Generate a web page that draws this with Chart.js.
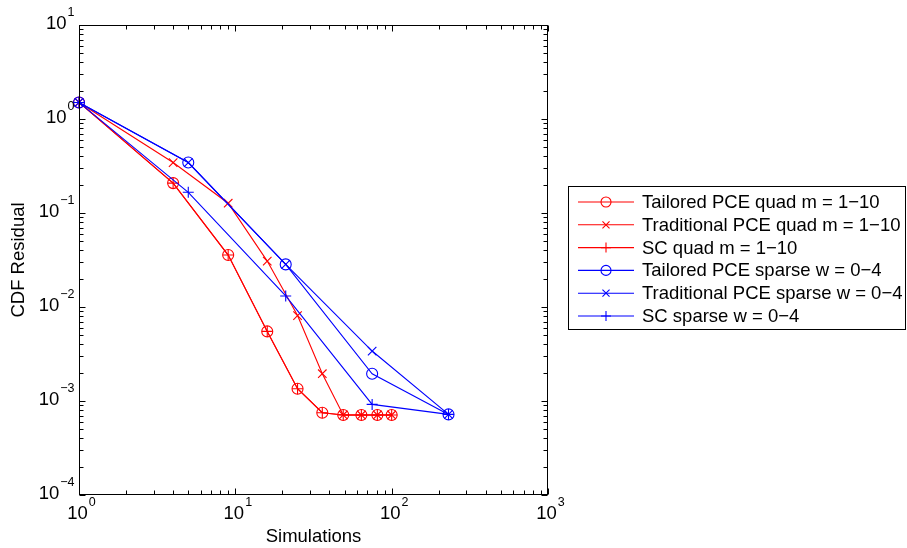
<!DOCTYPE html>
<html>
<head>
<meta charset="utf-8">
<script src="https://cdn.jsdelivr.net/npm/chart.js@4.4.1/dist/chart.umd.min.js"></script>
<style>
  html, body { margin: 0; padding: 0; background: #fff; }
  #chart { display: block; }
</style>
</head>
<body>
<canvas id="chart" width="907" height="548"></canvas>
<script>
// simulations per level
const quadSims = [1, 4, 9, 16, 25, 36, 49, 64, 81, 100];
const sparseSims = [1, 5, 21, 75, 231];

// CDF residual values
const tailoredQuad = [1.5, 0.208, 0.0357, 0.0055, 0.00135, 0.00075, 0.00071, 0.00071, 0.00071, 0.00071];
const traditionalQuad = [1.5, 0.344, 0.127, 0.0308, 0.0081, 0.00195, 0.00071, 0.00071, 0.00071, 0.00071];
const scQuad = [1.5, 0.208, 0.0357, 0.0055, 0.00135, 0.00075, 0.00071, 0.00071, 0.00071, 0.00071];
const tailoredSparse = [1.5, 0.344, 0.0284, 0.00195, 0.00072];
const traditionalSparse = [1.5, 0.344, 0.0284, 0.0034, 0.00072];
const scSparse = [1.5, 0.166, 0.0131, 0.00092, 0.00072];

const seriesLabels = [
  'Tailored PCE quad m = 1\u221210',
  'Traditional PCE quad m = 1\u221210',
  'SC quad m = 1\u221210',
  'Tailored PCE sparse w = 0\u22124',
  'Traditional PCE sparse w = 0\u22124',
  'SC sparse w = 0\u22124'
];

const xRange = [1, 1000];
const yRange = [1e-4, 10];

const FONT = "'Liberation Sans', Arial, Helvetica, sans-serif";
const RED = 'rgb(255, 0, 0)';
const BLUE = 'rgb(0, 0, 255)';

function toPoints(xs, ys) {
  return xs.map((x, i) => ({ x: x, y: ys[i] }));
}

function series(label, xs, ys, color, style, radius, order) {
  return {
    label: label,
    data: toPoints(xs, ys),
    borderColor: color,
    backgroundColor: color,
    borderWidth: 1.1,
    pointStyle: style,
    pointRadius: radius,
    pointHoverRadius: radius,
    pointBorderColor: color,
    pointBackgroundColor: 'rgba(0,0,0,0)',
    pointBorderWidth: 1.1,
    tension: 0,
    clip: false,
    order: order
  };
}

const datasets = [
  series(seriesLabels[0], quadSims, tailoredQuad, RED, 'circle', 5.5, 6),
  series(seriesLabels[1], quadSims, traditionalQuad, RED, 'crossRot', 6, 5),
  series(seriesLabels[2], quadSims, scQuad, RED, 'cross', 5.5, 4),
  series(seriesLabels[3], sparseSims, tailoredSparse, BLUE, 'circle', 5.5, 3),
  series(seriesLabels[4], sparseSims, traditionalSparse, BLUE, 'crossRot', 6, 2),
  series(seriesLabels[5], sparseSims, scSparse, BLUE, 'cross', 5.5, 1)
];

function decadeLabel(ctx, exp, x, y, align) {
  const base = '10';
  const sup = exp < 0 ? '\u2212' + Math.abs(exp) : String(exp);
  ctx.font = '18.5px ' + FONT;
  const wb = ctx.measureText(base).width;
  ctx.font = '12.5px ' + FONT;
  const ws = ctx.measureText(sup).width;
  let start = align === 'right' ? x - wb - ws : x - (wb + ws) / 2;
  ctx.textAlign = 'left';
  ctx.textBaseline = 'middle';
  ctx.font = '18.5px ' + FONT;
  ctx.fillText(base, start, y);
  ctx.font = '12.5px ' + FONT;
  ctx.fillText(sup, start + wb + 1, y - 11);
}

const axesPlugin = {
  id: 'matlabAxes',
  afterDatasetsDraw(chart) {
    const { ctx, chartArea: a, scales } = chart;
    const xs = scales.x, ys = scales.y;
    const L = Math.round(a.left) + 0.5, R = Math.round(a.right) - 0.5;
    const T = Math.round(a.top) + 0.5, B = Math.round(a.bottom) - 0.5;
    ctx.save();
    ctx.strokeStyle = '#000';
    ctx.fillStyle = '#000';
    ctx.lineWidth = 1;
    ctx.strokeRect(L, T, R - L, B - T);

    const x0 = Math.log10(xRange[0]), x1 = Math.log10(xRange[1]);
    const y0 = Math.log10(yRange[0]), y1 = Math.log10(yRange[1]);

    ctx.beginPath();
    for (let e = x0; e <= x1; e++) {
      for (let k = 1; k <= 9; k++) {
        if (e === x1 && k > 1) break;
        const px = Math.round(xs.getPixelForValue(k * Math.pow(10, e))) + 0.5;
        const len = k === 1 ? 6 : 4;
        ctx.moveTo(px, B); ctx.lineTo(px, B - len);
        ctx.moveTo(px, T); ctx.lineTo(px, T + len);
      }
    }
    for (let e = y0; e <= y1; e++) {
      for (let k = 1; k <= 9; k++) {
        if (e === y1 && k > 1) break;
        const py = Math.round(ys.getPixelForValue(k * Math.pow(10, e))) + 0.5;
        const len = k === 1 ? 6 : 4;
        ctx.moveTo(L, py); ctx.lineTo(L + len, py);
        ctx.moveTo(R, py); ctx.lineTo(R - len, py);
      }
    }
    ctx.stroke();

    for (let e = x0; e <= x1; e++) {
      decadeLabel(ctx, e, xs.getPixelForValue(Math.pow(10, e)) + 2, B + 19, 'center');
    }
    for (let e = y0; e <= y1; e++) {
      decadeLabel(ctx, e, L - 6, ys.getPixelForValue(Math.pow(10, e)) - 1, 'right');
    }
    ctx.restore();
  },
  afterDraw(chart) {
    const { ctx } = chart;
    const box = { left: 568.5, top: 186.5, right: 905.5, bottom: 329.5 };
    ctx.save();
    ctx.fillStyle = '#fff';
    ctx.fillRect(box.left, box.top, box.right - box.left, box.bottom - box.top);
    ctx.strokeStyle = '#000';
    ctx.lineWidth = 1;
    ctx.strokeRect(box.left, box.top, box.right - box.left, box.bottom - box.top);
    chart.data.datasets.forEach((ds, i) => {
      const yy = 202 + i * 22.8;
      ctx.strokeStyle = ds.borderColor;
      ctx.lineWidth = ds.borderWidth;
      ctx.beginPath();
      ctx.moveTo(578, yy); ctx.lineTo(634, yy);
      ctx.stroke();
      ctx.fillStyle = 'rgba(0,0,0,0)';
      Chart.helpers.drawPoint(ctx, {
        pointStyle: ds.pointStyle,
        radius: ds.pointStyle === 'crossRot' ? 5 : 5,
        rotation: 0,
        borderWidth: ds.pointBorderWidth
      }, 606, yy);
      ctx.fillStyle = '#000';
      ctx.font = '18.5px ' + FONT;
      ctx.textAlign = 'left';
      ctx.textBaseline = 'middle';
      ctx.fillText(ds.label, 642, yy + 1);
    });
    ctx.restore();
  }
};

new Chart(document.getElementById('chart'), {
  type: 'line',
  data: { datasets: datasets },
  options: {
    responsive: false,
    animation: false,
    devicePixelRatio: 1,
    layout: { padding: { top: 25, right: 359, left: 0, bottom: 0 } },
    plugins: {
      legend: { display: false },
      tooltip: { enabled: false }
    },
    scales: {
      x: {
        type: 'logarithmic',
        min: xRange[0],
        max: xRange[1],
        grid: { display: false },
        border: { display: false },
        ticks: { display: false },
        title: {
          display: true,
          text: 'Simulations',
          color: '#000',
          font: { family: FONT, size: 18.5 },
          padding: { top: 0, bottom: 0 }
        },
        afterFit(scale) { scale.height = 53; }
      },
      y: {
        type: 'logarithmic',
        min: yRange[0],
        max: yRange[1],
        grid: { display: false },
        border: { display: false },
        ticks: { display: false },
        title: {
          display: true,
          text: 'CDF Residual',
          color: '#000',
          font: { family: FONT, size: 18.5 },
          padding: { top: 8, bottom: 0 }
        },
        afterFit(scale) { scale.width = 79; }
      }
    }
  },
  plugins: [axesPlugin]
});
</script>
</body>
</html>
